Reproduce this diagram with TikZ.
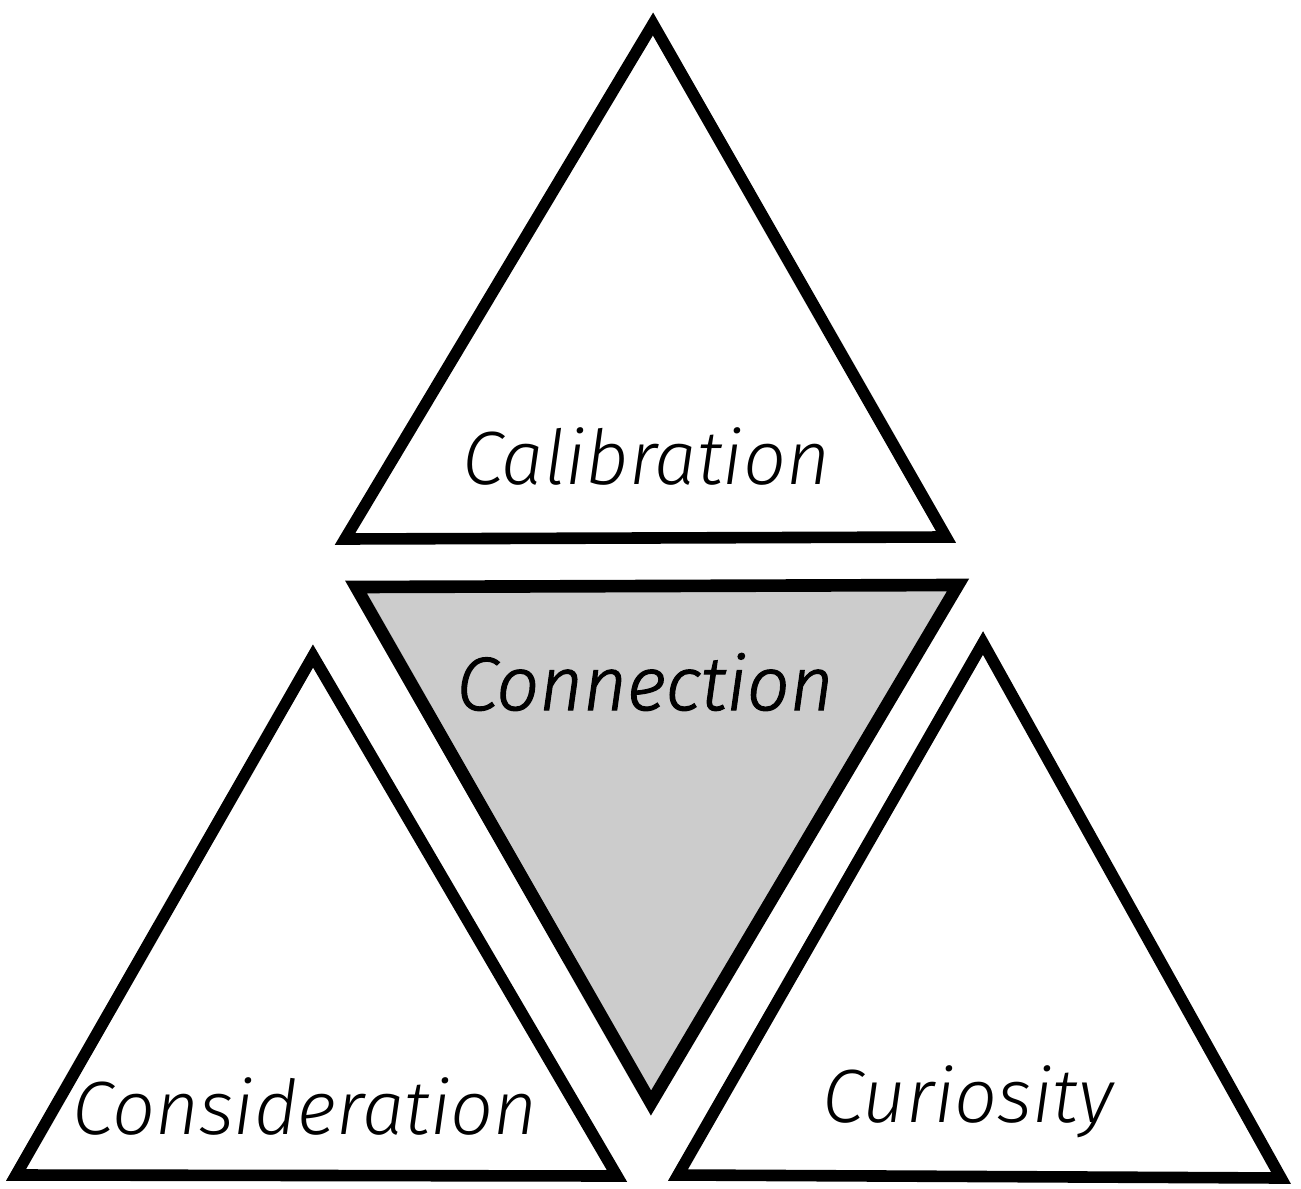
\documentclass[tikz,border=0pt]{standalone}
\usepackage{fontspec}
\setmainfont{Fira Sans Light}
\begin{document}
\begin{tikzpicture}[x=0.02cm,y=-0.02cm,
  tri/.style={draw=black,line width=6.6pt,line join=miter,fill=white},
  midtri/.style={tri,fill=black!20,line width=7.2pt},
  lbl/.style={font=\fontsize{43}{47}\selectfont\itshape,inner sep=0pt}]
\useasboundingbox (0,0) rectangle (1301,1189);
% top triangle
\coordinate (tA) at (653,24);
\coordinate (tL) at (345,539);
\coordinate (tR) at (946,537);
\draw[tri] (tA) -- (tR) -- (tL) -- cycle;
% middle inverted triangle
\coordinate (mL) at (356,587);
\coordinate (mR) at (958,585);
\coordinate (mB) at (651,1103);
\draw[midtri] (mL) -- (mR) -- (mB) -- cycle;
% bottom left triangle
\coordinate (lA) at (313,656);
\coordinate (lL) at (16,1175);
\coordinate (lR) at (617,1176);
\draw[tri] (lA) -- (lR) -- (lL) -- cycle;
% bottom right triangle
\coordinate (rA) at (983,643);
\coordinate (rL) at (678,1175);
\coordinate (rR) at (1281,1178);
\draw[tri] (rA) -- (rR) -- (rL) -- cycle;
% labels
\node[lbl] (cal) at (646,456) {Calibration};
\node[lbl,font=\fontsize{43}{47}\selectfont\itshape\addfontfeature{FakeBold=1.5}] (con) at (645,682) {Connection};
\node[lbl] (cons) at (305,1106) {Consideration};
\node[lbl] (cur) at (968,1102) {Curiosity};
\end{tikzpicture}
\end{document}
